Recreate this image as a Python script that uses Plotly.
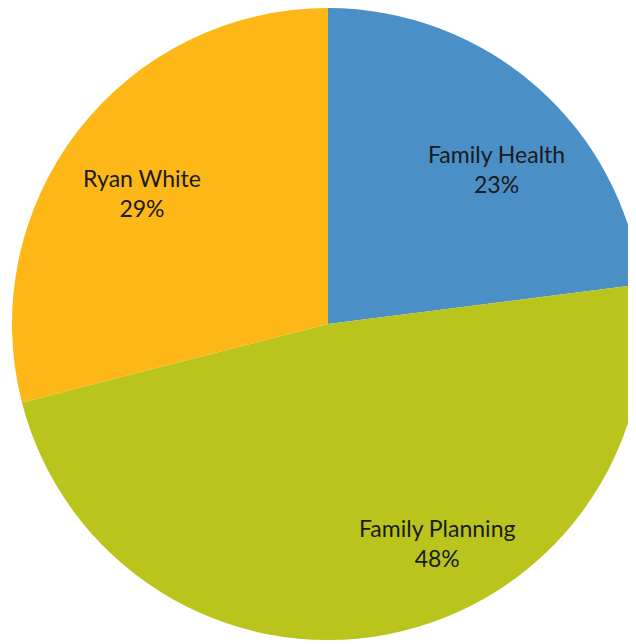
import plotly.graph_objects as go

# Slice data, clockwise from 12 o'clock
programs = ["Family Health", "Family Planning", "Ryan White"]
shares = [23, 48, 29]
slice_colors = ["#4a8fc6", "#b9c41c", "#fdb717"]

# Where each data label sits (paper fractions), like Excel's best-fit labels
label_x = [0.767, 0.672, 0.205]
label_y = [0.746, 0.153, 0.708]

fig = go.Figure()

fig.add_trace(
    go.Pie(
        labels=programs,
        values=shares,
        sort=False,
        direction="clockwise",
        rotation=0,
        marker={"colors": slice_colors, "line": {"width": 0}},
        textinfo="none",
        hoverinfo="label+percent",
        showlegend=False,
    )
)

total = sum(shares)
for name, val, lx, ly in zip(programs, shares, label_x, label_y):
    fig.add_annotation(
        x=lx,
        y=ly,
        xref="paper",
        yref="paper",
        xanchor="center",
        yanchor="middle",
        text=f"{name}<br>{round(100 * val / total)}%",
        showarrow=False,
        align="center",
        font={"family": "Lato", "size": 23, "color": "#1a1a1a"},
    )

fig.update_layout(
    width=636,
    height=644,
    margin={"l": 4, "r": 0, "t": 0, "b": 12},
    paper_bgcolor="white",
    plot_bgcolor="white",
)

fig.write_html("out.html")
